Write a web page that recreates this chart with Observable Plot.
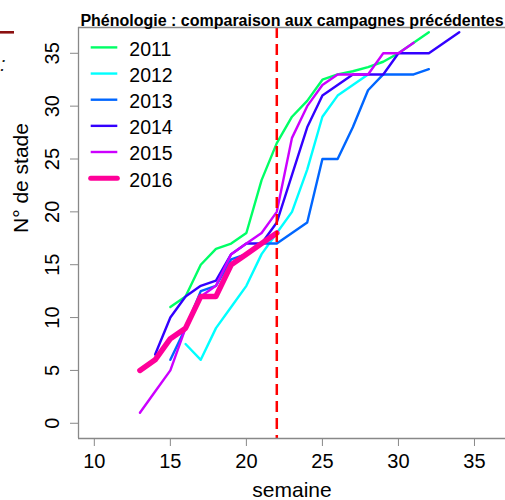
<!DOCTYPE html>
<html><head><meta charset="utf-8">
<script src="https://cdn.jsdelivr.net/npm/d3@7"></script>
<script src="https://cdn.jsdelivr.net/npm/@observablehq/plot@0.6"></script>
<style>
body{margin:0;background:#fff;}
#chart{width:505px;height:500px;overflow:hidden;}
svg{overflow:hidden;}
</style>
</head><body><div id="chart"></div>
<script>
// ---- data ----
const title = "Phénologie : comparaison aux campagnes précédentes";
const xLabel = "semaine";
const yLabel = "N° de stade";
const years = ["2011", "2012", "2013", "2014", "2015", "2016"];
const colors = ["#00FF66", "#00FFFF", "#0066FF", "#3300FF", "#CC00FF", "#FF0099"];

const weeks2011 = [15,16,17,18,19,20,21,22,23,24,25,26,27,28,29,30,31,32];
const stade2011 = [11,12,15,16.5,17,18,23,26.5,29,30.5,32.5,33,33.3,33.7,34.2,35,36,37];
const weeks2012 = [16,17,18,19,20,21,22,23,24,25,26,27,28];
const stade2012 = [7.5,6,9,11,13,16,18,20,24,29,31,32,33];
const weeks2013 = [15,16,17,18,19,20,21,22,23,24,25,26,27,28,29,30,31,32];
const stade2013 = [6,9,12.5,13,15.5,16,17,17,18,19,25,25,28,31.5,33,33,33,33.5];
const weeks2014 = [14,15,16,17,18,19,20,21,22,23,24,25,26,27,28,29,30,31,32,33,34];
const stade2014 = [6.5,10,12,13,13.5,16,17,17,19,23.5,28,31,32,33,33,33,35,35,35,36,37];
const weeks2015 = [13,14,15,16,17,18,19,20,21,22,23,24,25,26,27,28,29,30,31];
const stade2015 = [1,3,5,9,12,13,16,17,18,20,27,30,32,33,33,33,35,35,36];
const weeks2016 = [13,14,15,16,17,18,19,20,21,22];
const stade2016 = [5,6,8,9,12,12,15,16,17,18];

const currentWeek = [22];
const xTicks = [10, 15, 20, 25, 30, 35];
const yTicks = [0, 5, 10, 15, 20, 25, 30, 35];
const xDomain = [8.96, 37.04];
const yDomain = [-1.44, 37.44];

// ---- build table ----
const weeksAll = [weeks2011, weeks2012, weeks2013, weeks2014, weeks2015, weeks2016];
const stadeAll = [stade2011, stade2012, stade2013, stade2014, stade2015, stade2016];
const rows = years.flatMap((yr, i) => weeksAll[i].map((w, j) => ({year: yr, week: w, stade: stadeAll[i][j]})));
const past = rows.filter(d => d.year !== "2016");
const current = rows.filter(d => d.year === "2016");

const font = "'Liberation Sans', Arial, sans-serif";

const plot = Plot.plot({
  width: 505,
  height: 500,
  marginLeft: 78,
  marginRight: 0,
  marginTop: 27,
  marginBottom: 62,
  style: {fontFamily: font, fontSize: "20px", color: "#888", background: "#fff"},
  x: {domain: xDomain, inset: 0, ticks: xTicks, tickSize: 8, tickFormat: () => "", label: null},
  y: {domain: yDomain, inset: 0, ticks: yTicks, tickSize: 8, tickFormat: () => "", label: null},
  color: {domain: years, range: colors},
  marks: [
    Plot.line(past, {x: "week", y: "stade", z: "year", stroke: "year", strokeWidth: 2.4, strokeLinejoin: "round", strokeLinecap: "round"}),
    Plot.line(current, {x: "week", y: "stade", z: "year", stroke: "year", strokeWidth: 5.5, strokeLinejoin: "round", strokeLinecap: "round"}),
    Plot.ruleX(currentWeek, {stroke: "#FF0000", strokeWidth: 2.5, strokeDasharray: "11,6"}),
    Plot.ruleX([xDomain[0]], {stroke: "#888", strokeWidth: 1.3}),
    Plot.ruleY(yDomain, {stroke: "#888", strokeWidth: 1.3}),
    Plot.text(xTicks, {x: d => d, y: yDomain[0], text: d => String(d), dy: 23, fill: "#000", fontSize: 20, textAnchor: "middle", lineAnchor: "middle"}),
    Plot.text(yTicks, {x: xDomain[0], y: d => d, text: d => String(d), dx: -25.5, rotate: -90, fill: "#000", fontSize: 20, textAnchor: "middle", lineAnchor: "middle"}),
    Plot.text([xLabel], {frameAnchor: "bottom", dy: 52, fill: "#000", fontSize: 21, lineAnchor: "middle"}),
    Plot.text([yLabel], {frameAnchor: "left", dx: -57, rotate: -90, fill: "#000", fontSize: 21, lineAnchor: "middle"}),
    Plot.text([title], {frameAnchor: "top", dy: -1.5, fill: "#000", fontSize: 16, fontWeight: "bold", lineAnchor: "bottom"})
  ]
});

const svg = d3.select(plot.tagName.toLowerCase() === "svg" ? plot : plot.querySelector("svg"));
// legend
const lg = svg.append("g").attr("font-family", font).attr("text-anchor", "start");
years.forEach((yr, i) => {
  const yc = 47.4 + 26.15 * i;
  lg.append("line")
    .attr("x1", 90.7).attr("x2", 117.3).attr("y1", yc).attr("y2", yc)
    .attr("stroke", colors[i]).attr("stroke-width", i === 5 ? 5 : 2.4)
    .attr("stroke-linecap", i === 5 ? "round" : "butt");
  lg.append("text").attr("x", 129.3).attr("y", yc + 8.4)
    .attr("text-anchor", "start")
    .attr("font-size", 19.5).attr("fill", "#000").text(yr);
});
// remnants of neighbouring panel at the left edge
const rg = svg.append("g").attr("text-anchor", "start");
rg.append("line").attr("x1", 0).attr("x2", 14).attr("y1", 32.3).attr("y2", 32.3)
  .attr("stroke", "#8B1010").attr("stroke-width", 2.6);
rg.append("text").attr("x", 0).attr("y", 71).attr("font-family", font).attr("font-style", "italic")
  .attr("font-size", 20).attr("fill", "#222").text(":");

document.getElementById("chart").appendChild(plot);
</script>
</body></html>
